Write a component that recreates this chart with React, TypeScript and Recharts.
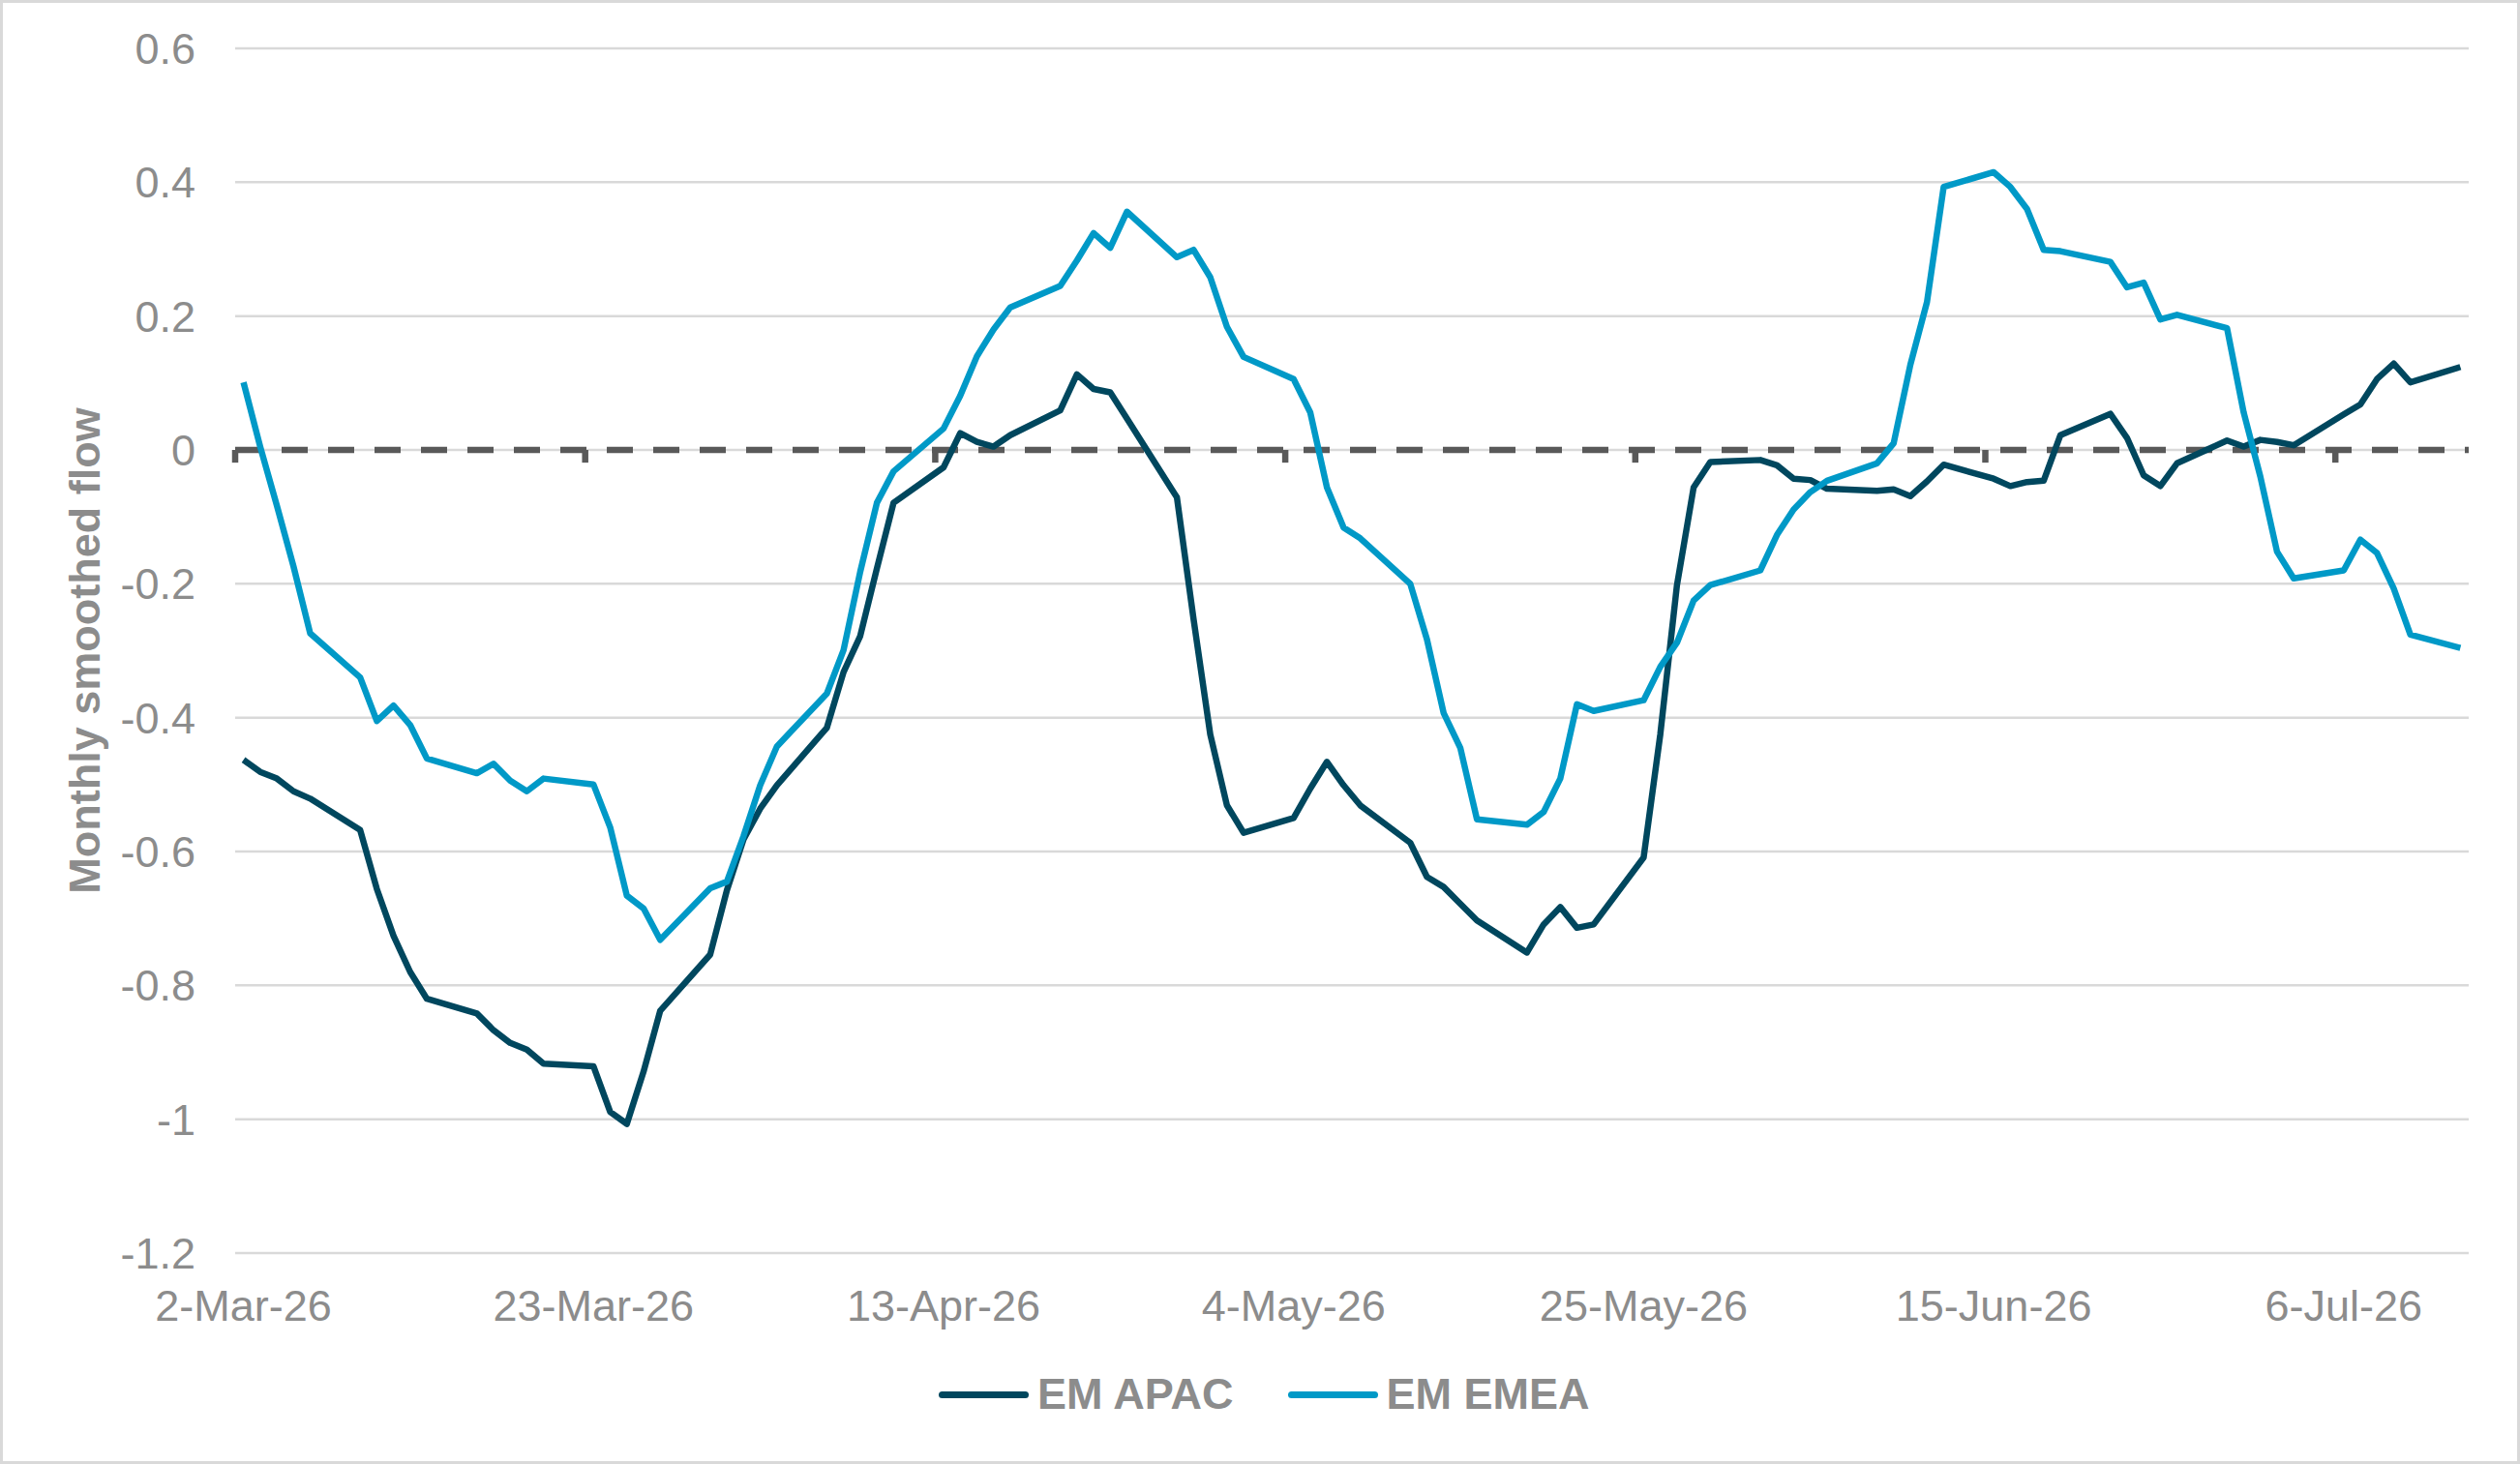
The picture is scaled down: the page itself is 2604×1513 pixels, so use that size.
import { CartesianGrid, Line, LineChart, ReferenceLine, XAxis, YAxis } from 'recharts'

// business-day offsets from 2-Mar-26
const dayOffsets = [
  0, 1, 2, 3, 4, 7, 8, 9, 10, 11, 14, 15, 16, 17, 18, 21, 22, 23, 24, 25,
  28, 29, 30, 31, 32, 35, 36, 37, 38, 39, 42, 43, 44, 45, 46, 49, 50, 51, 52, 53,
  56, 57, 58, 59, 60, 63, 64, 65, 66, 67, 70, 71, 72, 73, 74, 77, 78, 79, 80, 81,
  84, 85, 86, 87, 88, 91, 92, 93, 94, 95, 98, 99, 100, 101, 102, 105, 106, 107, 108, 109,
  112, 113, 114, 115, 116, 119, 120, 121, 122, 123, 126, 127, 128, 129, 130, 133,
]

const emApac = [
  -0.463, -0.481, -0.491, -0.51, -0.521, -0.568, -0.656, -0.726, -0.78, -0.82,
  -0.842, -0.867, -0.886, -0.896, -0.917, -0.921, -0.989, -1.007, -0.929, -0.838,
  -0.754, -0.658, -0.582, -0.536, -0.501, -0.415, -0.332, -0.278, -0.177, -0.079,
  -0.026, 0.025, 0.012, 0.005, 0.022, 0.059, 0.113, 0.091, 0.086, 0.047,
  -0.071, -0.253, -0.425, -0.531, -0.572, -0.55, -0.506, -0.466, -0.501, -0.531,
  -0.587, -0.638, -0.653, -0.678, -0.703, -0.751, -0.709, -0.683, -0.714, -0.709,
  -0.609, -0.425, -0.202, -0.056, -0.018, -0.015, -0.023, -0.043, -0.045, -0.058,
  -0.061, -0.059, -0.069, -0.047, -0.022, -0.043, -0.054, -0.048, -0.046, 0.022,
  0.054, 0.018, -0.038, -0.054, -0.02, 0.014, 0.005, 0.015, 0.012, 0.007,
  0.053, 0.068, 0.106, 0.129, 0.101, 0.124,
]

const emEmea = [
  0.101, 0.005, -0.083, -0.174, -0.274, -0.34, -0.405, -0.382, -0.411, -0.461,
  -0.483, -0.469, -0.494, -0.51, -0.491, -0.5, -0.564, -0.666, -0.685, -0.732,
  -0.655, -0.645, -0.577, -0.501, -0.443, -0.364, -0.299, -0.182, -0.079, -0.032,
  0.032, 0.081, 0.14, 0.18, 0.213, 0.245, 0.283, 0.324, 0.302, 0.356,
  0.288, 0.299, 0.258, 0.184, 0.139, 0.106, 0.056, -0.056, -0.116, -0.132,
  -0.2, -0.283, -0.393, -0.445, -0.552, -0.56, -0.541, -0.491, -0.38, -0.39,
  -0.374, -0.324, -0.288, -0.225, -0.202, -0.18, -0.127, -0.089, -0.063, -0.046,
  -0.02, 0.01, 0.127, 0.221, 0.393, 0.415, 0.393, 0.36, 0.299, 0.297,
  0.281, 0.243, 0.25, 0.195, 0.202, 0.182, 0.056, -0.04, -0.152, -0.192,
  -0.18, -0.134, -0.154, -0.207, -0.276, -0.296,
]

const tickDays = [0, 21, 42, 63, 84, 105, 126]
const tickLabels = ['2-Mar-26', '23-Mar-26', '13-Apr-26', '4-May-26', '25-May-26', '15-Jun-26', '6-Jul-26']
const yTicks = [-1.2, -1, -0.8, -0.6, -0.4, -0.2, 0, 0.2, 0.4, 0.6]

const APAC_COLOR = '#00475e'
const EMEA_COLOR = '#0099c7'
const TEXT_COLOR = '#8c8c8c'
const FONT = '"Liberation Sans", Arial, sans-serif'

const data = dayOffsets.map((day, i) => ({ day, apac: emApac[i], emea: emEmea[i] }))

function LegendItem({ color, label }: { color: string; label: string }) {
  return (
    <div style={{ display: 'flex', alignItems: 'center', gap: 9 }}>
      <span style={{ width: 93, height: 7, borderRadius: 4, background: color }} />
      <span style={{ fontSize: 45, fontWeight: 700, color: TEXT_COLOR }}>{label}</span>
    </div>
  )
}

export default function App() {
  return (
    <div style={{ position: 'relative', width: 2604, height: 1513, background: '#fff', fontFamily: FONT }}>
      <style>{'body{margin:0}'}</style>
      <LineChart width={2604} height={1513} data={data} margin={{ top: 50, right: 53, bottom: 0, left: 0 }}>
        <CartesianGrid vertical={false} stroke="#d9d9d9" strokeWidth={2.5} />
        <XAxis
          dataKey="day"
          type="number"
          domain={[-0.5, 133.5]}
          ticks={tickDays}
          interval={0}
          height={218}
          axisLine={false}
          tickLine={false}
          tickSize={0}
          tickMargin={38}
          tickFormatter={(v) => tickLabels[tickDays.indexOf(v)] ?? ''}
          tick={{ fontSize: 45, fill: TEXT_COLOR, fontFamily: FONT }}
        />
        <YAxis
          type="number"
          domain={[-1.2, 0.6]}
          ticks={yTicks}
          interval={0}
          width={243}
          axisLine={false}
          tickLine={false}
          tickSize={0}
          tickMargin={41}
          tick={{ fontSize: 45, fill: TEXT_COLOR, fontFamily: FONT }}
          label={({ viewBox }: any) => {
            const cx = viewBox.x + 87
            const cy = viewBox.y + viewBox.height / 2
            return (
              <text
                x={cx}
                y={cy}
                transform={`rotate(-90 ${cx} ${cy})`}
                textAnchor="middle"
                dominantBaseline="central"
                fontSize={45}
                fontWeight={700}
                fill={TEXT_COLOR}
                fontFamily={FONT}
              >
                Monthly smoothed flow
              </text>
            )
          }}
        />
        <ReferenceLine y={0} stroke="#595959" strokeWidth={6.5} strokeDasharray="27 21" />
        {tickDays.map((d) => (
          <ReferenceLine
            key={d}
            segment={[
              { x: d - 0.5, y: 0 },
              { x: d - 0.5, y: -0.019 },
            ]}
            stroke="#595959"
            strokeWidth={6.5}
          />
        ))}
        <Line
          type="linear"
          dataKey="apac"
          name="EM APAC"
          stroke={APAC_COLOR}
          strokeWidth={6.5}
          strokeLinejoin="round"
          dot={false}
          isAnimationActive={false}
        />
        <Line
          type="linear"
          dataKey="emea"
          name="EM EMEA"
          stroke={EMEA_COLOR}
          strokeWidth={6.5}
          strokeLinejoin="round"
          dot={false}
          isAnimationActive={false}
        />
      </LineChart>
      <div
        style={{
          position: 'absolute',
          top: 1441,
          left: 970,
          transform: 'translateY(-50%)',
          display: 'flex',
          gap: 56,
        }}
      >
        <LegendItem color={APAC_COLOR} label="EM APAC" />
        <LegendItem color={EMEA_COLOR} label="EM EMEA" />
      </div>
      <div style={{ position: 'absolute', inset: 0, border: '3px solid #d9d9d9', pointerEvents: 'none' }} />
    </div>
  )
}
